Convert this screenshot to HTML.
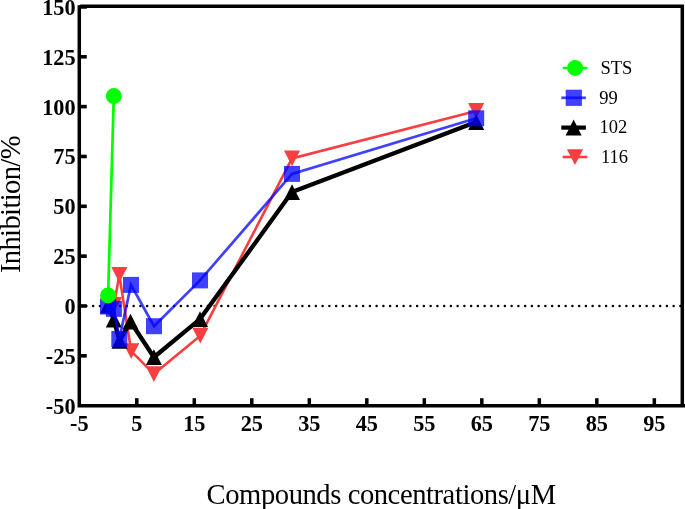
<!DOCTYPE html>
<html lang="en"><head><meta charset="utf-8"><title>Inhibition vs compound concentration</title>
<style>html,body{margin:0;padding:0;background:#fff;}svg{display:block;will-change:transform;opacity:0.999;}text{font-family:"Liberation Serif",serif;fill:#000;}</style>
</head><body>
<svg width="685" height="509" viewBox="0 0 685 509">
<rect width="685" height="509" fill="#fff"/>
<line x1="79.63" y1="305.90" x2="682.30" y2="305.90" stroke="#000" stroke-width="2.5" stroke-linecap="round" stroke-dasharray="0 6.75"/>
<g id="s116">
<polyline points="114.1,304.8 119.3,274.9 131.2,351.2 153.9,374.1 200.3,335.7 292.0,158.4 476.2,110.9" fill="none" stroke="#f73e40" stroke-width="2.6" stroke-linejoin="miter"/>
<polygon points="106.0,296.9 122.1,296.9 114.1,312.7" fill="#f73e40"/>
<polygon points="111.3,267.0 127.4,267.0 119.3,282.8" fill="#f73e40"/>
<polygon points="123.2,343.3 139.3,343.3 131.2,359.1" fill="#f73e40"/>
<polygon points="145.9,366.2 162.0,366.2 153.9,382.0" fill="#f73e40"/>
<polygon points="192.3,327.8 208.4,327.8 200.3,343.6" fill="#f73e40"/>
<polygon points="284.0,150.5 300.1,150.5 292.0,166.3" fill="#f73e40"/>
<polygon points="468.1,103.0 484.2,103.0 476.2,118.8" fill="#f73e40"/>
</g>
<g id="s102">
<polyline points="108.0,305.5 113.8,319.5 119.5,340.8 130.5,321.7 153.9,357.2 200.0,319.1 292.0,192.1 476.2,122.1" fill="none" stroke="#000" stroke-width="4.3" stroke-linejoin="miter"/>
<polygon points="100.0,313.4 116.0,313.4 108.0,297.6" fill="#000"/>
<polygon points="105.8,327.4 121.8,327.4 113.8,311.6" fill="#000"/>
<polygon points="111.5,348.7 127.5,348.7 119.5,332.9" fill="#000"/>
<polygon points="122.5,329.6 138.5,329.6 130.5,313.8" fill="#000"/>
<polygon points="145.9,365.1 161.9,365.1 153.9,349.3" fill="#000"/>
<polygon points="192.0,327.0 208.0,327.0 200.0,311.2" fill="#000"/>
<polygon points="284.0,200.0 300.0,200.0 292.0,184.2" fill="#000"/>
<polygon points="468.2,130.0 484.2,130.0 476.2,114.2" fill="#000"/>
</g>
<g id="s99">
<polyline points="108.0,306.5 113.9,308.9 119.3,339.0 131.0,284.9 154.0,326.2 200.0,280.4 292.0,173.9 476.2,118.3" fill="none" stroke="#0000ff" stroke-opacity="0.75" stroke-width="2.7" stroke-linejoin="miter"/>
<rect x="100.0" y="298.5" width="16.0" height="16.0" fill="#0000ff" fill-opacity="0.75"/>
<rect x="105.9" y="300.9" width="16.0" height="16.0" fill="#0000ff" fill-opacity="0.75"/>
<rect x="111.3" y="331.0" width="16.0" height="16.0" fill="#0000ff" fill-opacity="0.75"/>
<rect x="123.0" y="276.9" width="16.0" height="16.0" fill="#0000ff" fill-opacity="0.75"/>
<rect x="146.0" y="318.2" width="16.0" height="16.0" fill="#0000ff" fill-opacity="0.75"/>
<rect x="192.0" y="272.4" width="16.0" height="16.0" fill="#0000ff" fill-opacity="0.75"/>
<rect x="284.0" y="165.9" width="16.0" height="16.0" fill="#0000ff" fill-opacity="0.75"/>
<rect x="468.2" y="110.3" width="16.0" height="16.0" fill="#0000ff" fill-opacity="0.75"/>
</g>
<g id="sSTS">
<polyline points="108.1,295.4 113.8,96.1" fill="none" stroke="#00ff00" stroke-width="2.7"/>
<circle cx="108.1" cy="295.4" r="8.0" fill="#00ff00"/>
<circle cx="113.8" cy="96.1" r="8.0" fill="#00ff00"/>
</g>
<g stroke="#000" stroke-width="3.5" fill="none">
<polyline points="80.28,6.3 682.30,6.3 682.30,405.65" stroke-linejoin="miter"/>
<polyline points="79.28,5.2 79.28,405.65 686,405.65" stroke-linejoin="miter"/>
</g>
<line x1="136.78" y1="405.65" x2="136.78" y2="398.20" stroke="#000" stroke-width="3.5"/>
<line x1="194.29" y1="405.65" x2="194.29" y2="398.20" stroke="#000" stroke-width="3.5"/>
<line x1="251.79" y1="405.65" x2="251.79" y2="398.20" stroke="#000" stroke-width="3.5"/>
<line x1="309.30" y1="405.65" x2="309.30" y2="398.20" stroke="#000" stroke-width="3.5"/>
<line x1="366.80" y1="405.65" x2="366.80" y2="398.20" stroke="#000" stroke-width="3.5"/>
<line x1="424.31" y1="405.65" x2="424.31" y2="398.20" stroke="#000" stroke-width="3.5"/>
<line x1="481.81" y1="405.65" x2="481.81" y2="398.20" stroke="#000" stroke-width="3.5"/>
<line x1="539.32" y1="405.65" x2="539.32" y2="398.20" stroke="#000" stroke-width="3.5"/>
<line x1="596.82" y1="405.65" x2="596.82" y2="398.20" stroke="#000" stroke-width="3.5"/>
<line x1="654.33" y1="405.65" x2="654.33" y2="398.20" stroke="#000" stroke-width="3.5"/>
<line x1="79.28" y1="355.81" x2="86.75" y2="355.81" stroke="#000" stroke-width="3.6"/>
<line x1="79.28" y1="305.97" x2="86.75" y2="305.97" stroke="#000" stroke-width="3.6"/>
<line x1="79.28" y1="256.14" x2="86.75" y2="256.14" stroke="#000" stroke-width="3.6"/>
<line x1="79.28" y1="206.30" x2="86.75" y2="206.30" stroke="#000" stroke-width="3.6"/>
<line x1="79.28" y1="156.46" x2="86.75" y2="156.46" stroke="#000" stroke-width="3.6"/>
<line x1="79.28" y1="106.62" x2="86.75" y2="106.62" stroke="#000" stroke-width="3.6"/>
<line x1="79.28" y1="56.79" x2="86.75" y2="56.79" stroke="#000" stroke-width="3.6"/>
<line x1="79.28" y1="6.95" x2="86.75" y2="6.95" stroke="#000" stroke-width="3.6"/>
<g font-size="22.3" font-weight="bold">
<text x="79.3" y="430.7" text-anchor="middle">-5</text>
<text x="136.8" y="430.7" text-anchor="middle">5</text>
<text x="194.3" y="430.7" text-anchor="middle">15</text>
<text x="251.8" y="430.7" text-anchor="middle">25</text>
<text x="309.3" y="430.7" text-anchor="middle">35</text>
<text x="366.8" y="430.7" text-anchor="middle">45</text>
<text x="424.3" y="430.7" text-anchor="middle">55</text>
<text x="481.8" y="430.7" text-anchor="middle">65</text>
<text x="539.3" y="430.7" text-anchor="middle">75</text>
<text x="596.8" y="430.7" text-anchor="middle">85</text>
<text x="654.3" y="430.7" text-anchor="middle">95</text>
<text x="75.6" y="413.5" text-anchor="end">-50</text>
<text x="75.6" y="363.7" text-anchor="end">-25</text>
<text x="75.6" y="313.9" text-anchor="end">0</text>
<text x="75.6" y="264.0" text-anchor="end">25</text>
<text x="75.6" y="214.2" text-anchor="end">50</text>
<text x="75.6" y="164.4" text-anchor="end">75</text>
<text x="75.6" y="114.5" text-anchor="end">100</text>
<text x="75.6" y="64.7" text-anchor="end">125</text>
<text x="75.6" y="14.9" text-anchor="end">150</text>
</g>
<text x="206.6" y="503.7" font-size="28.6" textLength="349.6" lengthAdjust="spacing">Compounds concentrations/μM</text>
<text transform="translate(19.9,273.1) rotate(-90)" font-size="28.6" textLength="137.6" lengthAdjust="spacing">Inhibition/%</text>
<g id="legend" font-size="18.5">
<line x1="562.7" y1="67.9" x2="587.4" y2="67.9" stroke="#00ff00" stroke-width="2.4"/><circle cx="575.1" cy="67.9" r="8.0" fill="#00ff00"/>
<text x="600.4" y="74.2">STS</text>
<line x1="561.3" y1="97.8" x2="585.9" y2="97.8" stroke="#0000ff" stroke-opacity="0.75" stroke-width="2.7"/><rect x="565.7" y="89.7" width="16.2" height="16.2" fill="#0000ff" fill-opacity="0.75"/>
<text x="599.2" y="103.9">99</text>
<line x1="561.3" y1="127.6" x2="585.9" y2="127.6" stroke="#000" stroke-width="4.2"/><polygon points="565.6,135.4 581.6,135.4 573.6,119.6" fill="#000"/>
<text x="599.6" y="133.2">102</text>
<line x1="562.7" y1="157.0" x2="587.4" y2="157.0" stroke="#f73e40" stroke-width="2.6"/><polygon points="566.9,149.2 583.1,149.2 575.0,165.1" fill="#f73e40"/>
<text x="600.9" y="163.3">116</text>
</g>
</svg>
</body></html>
